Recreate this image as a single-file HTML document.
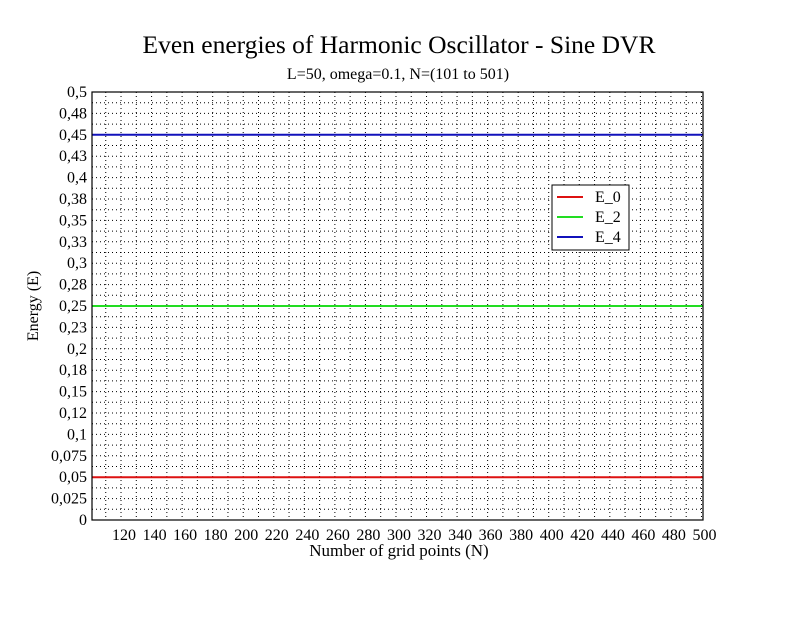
<!DOCTYPE html>
<html><head><meta charset="utf-8"><style>
body{margin:0;background:#fff}
svg text{font-family:"Liberation Serif",serif;fill:#000}
</style></head><body>
<svg id="c" width="792" height="612" xmlns="http://www.w3.org/2000/svg">
<text x="399" y="53" font-size="25.5" text-anchor="middle">Even energies of Harmonic Oscillator - Sine DVR</text>
<text x="398" y="79" font-size="16" text-anchor="middle">L=50, omega=0.1, N=(101 to 501)</text>
<text transform="translate(38,306) rotate(-90)" font-size="16" text-anchor="middle">Energy (E)</text>
<text x="399" y="556" font-size="17" text-anchor="middle">Number of grid points (N)</text>
<g id="grid"></g>
<g id="ticks"></g>
<g id="series"></g>
<rect x="92" y="92" width="611" height="428" fill="none" stroke="#000" stroke-width="1.2"/>
<g>
<rect x="552" y="185" width="77" height="65" fill="#fff" stroke="#000"/>
<g id="legend"></g>
</g>
</svg>
<script>
const categories=[101,501];
const seriesNames=["E_0","E_2","E_4"];
const e0=[0.05,0.05];
const e2=[0.25,0.25];
const e4=[0.45,0.45];
const yTickLabels=["0","0,025","0,05","0,075","0,1","0,12","0,15","0,18","0,2","0,23","0,25","0,28","0,3","0,33","0,35","0,38","0,4","0,43","0,45","0,48","0,5"];
const xTickLabels=[120,140,160,180,200,220,240,260,280,300,320,340,360,380,400,420,440,460,480,500];
const L=92,R=703,T=92,B=520,xmin=101,xmax=501,ymin=0,ymax=0.5;
const X=v=>L+(v-xmin)/(xmax-xmin)*(R-L);
const Y=v=>B-(v-ymin)/(ymax-ymin)*(B-T);
const NS="http://www.w3.org/2000/svg";
function mk(tag,attrs,parent){const e=document.createElementNS(NS,tag);for(const k in attrs)e.setAttribute(k,attrs[k]);parent.appendChild(e);return e;}
const grid=document.getElementById('grid'),ticks=document.getElementById('ticks'),ser=document.getElementById('series'),leg=document.getElementById('legend');
for(let v=110;v<xmax;v+=10){const l=mk('line',{x1:X(v),x2:X(v),y1:T,y2:B,stroke:'#000','stroke-width':1,'stroke-dasharray':'1,3'},grid);

}
for(let i=1;i<40;i++){const v=i*0.0125;const l=mk('line',{x1:L,x2:R,y1:Y(v),y2:Y(v),stroke:'#000','stroke-width':1,'stroke-dasharray':'1,3'},grid);

}
yTickLabels.forEach((t,i)=>{const v=i*0.025;const e=mk('text',{x:87,y:Y(v)+5,'font-size':16,'text-anchor':'end'},ticks);e.textContent=t;

});
xTickLabels.forEach(t=>{const e=mk('text',{x:X(t)+3,y:540,'font-size':16,'text-anchor':'middle'},ticks);e.textContent=t;

});
const data=[e0,e2,e4],colors=['#dd1111','#22dd22','#1111bb'];
data.forEach((d,s)=>{const p=d.map((v,i)=>X(categories[i])+','+Y(v)).join(' ');
const pl=mk('polyline',{points:p,fill:'none',stroke:colors[s],'stroke-width':2},ser);


const ly=197+s*20;
const ln=mk('line',{x1:557,x2:583,y1:ly,y2:ly,stroke:colors[s],'stroke-width':2},leg);


const tx=mk('text',{x:595,y:ly+5,'font-size':16},leg);tx.textContent=seriesNames[s];

});
</script>
</body></html>
